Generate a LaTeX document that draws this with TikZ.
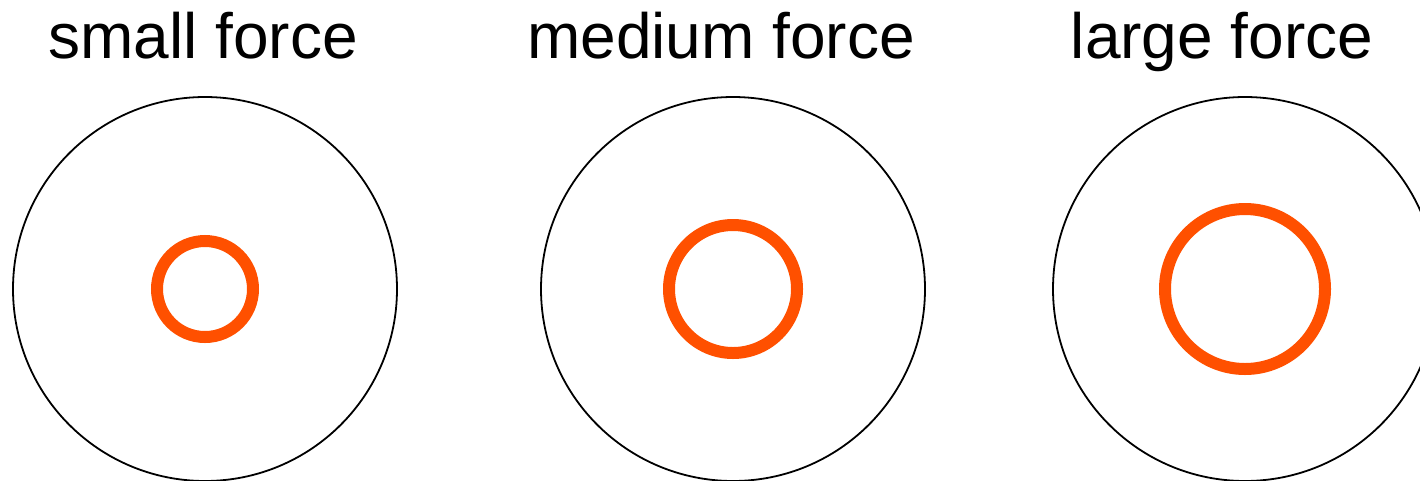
\documentclass[tikz,border=0pt]{standalone}
\usepackage{fontspec}
\setmainfont{Liberation Sans}
\definecolor{forceorange}{RGB}{255,80,0}
\begin{document}
\begin{tikzpicture}[x=1pt,y=-1pt,
  label/.style={font=\fontsize{64}{70}\selectfont, anchor=base, inner sep=0pt},
  outer/.style={draw=black, line width=1.8pt},
  ring/.style={draw=forceorange, line width=12pt}]
\useasboundingbox (0,0) rectangle (1420,480);
\node[label] (t1) at (203,58) {small force};
\node[label] (t2) at (721,58) {medium force};
\node[label] (t3) at (1222,58) {large force};
\draw[outer] (205,289) circle[radius=192];
\draw[outer] (733,289) circle[radius=192];
\draw[outer] (1245,289) circle[radius=192];
\draw[ring] (205,289) circle[radius=48];
\draw[ring] (733,289) circle[radius=64];
\draw[ring] (1245,289) circle[radius=80];
\end{tikzpicture}
\end{document}
